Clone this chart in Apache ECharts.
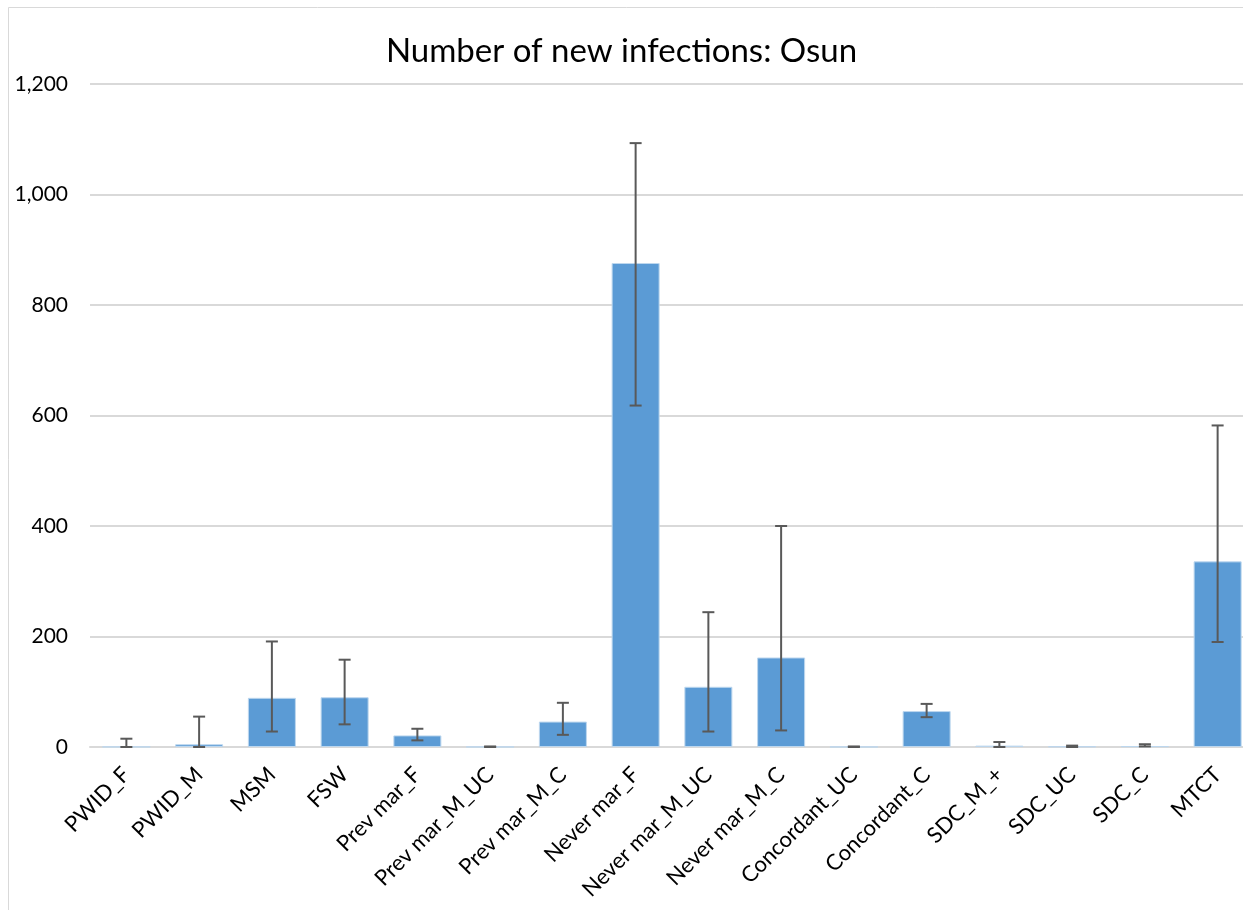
<!DOCTYPE html>
<html>
<head>
<meta charset="utf-8">
<script src="https://cdn.jsdelivr.net/npm/echarts@6/dist/echarts.min.js"></script>
<style>
  html, body { margin: 0; padding: 0; background: #fff; }
  #chart { width: 1243px; height: 910px; }
</style>
</head>
<body>
<div id="chart"></div>
<script>
const categories = [
  'PWID_F', 'PWID_M', 'MSM', 'FSW', 'Prev mar_F', 'Prev mar_M_UC', 'Prev mar_M_C',
  'Never mar_F', 'Never mar_M_UC', 'Never mar_M_C', 'Concordant_UC', 'Concordant_C',
  'SDC_M_+', 'SDC_UC', 'SDC_C', 'MTCT'
]
const infections = [0.5, 5, 89, 90, 21, 0.3, 46, 876, 109, 162, 0.3, 65, 2.5, 1, 1.5, 336]
const errLow = [0, 0, 28, 41, 12, 0, 22, 618, 28, 30, 0, 54, 0, 0, 1, 190]
const errHigh = [15, 55, 191, 158, 33, 1, 80, 1093, 244, 400, 1, 78, 9, 2.5, 5, 582]
const yTicks = [0, 200, 400, 600, 800, 1000, 1200]

const fontFamily = 'Lato, "Open Sans", sans-serif'
const chart = echarts.init(document.getElementById('chart'))

const errorData = categories.map((c, i) => [i, errLow[i], errHigh[i]])

// error bar: vertical stem with caps at both ends
function renderError(params, api) {
  const x = api.value(0)
  const lo = api.coord([x, api.value(1)])
  const hi = api.coord([x, api.value(2)])
  const cap = 6
  const style = { stroke: '#595959', lineWidth: 2, fill: null }
  return {
    type: 'group',
    children: [
      { type: 'line', shape: { x1: lo[0], y1: lo[1], x2: hi[0], y2: hi[1] }, style },
      { type: 'line', shape: { x1: hi[0] - cap, y1: hi[1], x2: hi[0] + cap, y2: hi[1] }, style },
      { type: 'line', shape: { x1: lo[0] - cap, y1: lo[1], x2: lo[0] + cap, y2: lo[1] }, style }
    ]
  }
}

const option = {
  animation: false,
  backgroundColor: '#fff',
  title: {
    text: 'Number of new infections: Osun',
    left: 'center',
    top: 30,
    textStyle: { fontFamily, fontSize: 33, fontWeight: 'normal', color: '#000' }
  },
  graphic: [{
    type: 'rect',
    shape: { x: 8.5, y: 7.5, width: 1400, height: 1000 },
    style: { fill: null, stroke: '#d9d9d9', lineWidth: 1 },
    z: -1
  }],
  grid: { left: 90, top: 84, width: 1164, height: 663, outerBoundsMode: 'none' },
  xAxis: {
    type: 'category',
    data: categories,
    axisLine: { lineStyle: { color: '#d9d9d9', width: 2 } },
    axisTick: { show: false },
    axisLabel: {
      rotate: 45,
      interval: 0,
      margin: 24,
      fontFamily,
      fontSize: 22,
      color: '#000'
    }
  },
  yAxis: {
    type: 'value',
    min: yTicks[0],
    max: yTicks[yTicks.length - 1],
    interval: 200,
    axisLine: { show: false },
    axisTick: { show: false },
    splitLine: { lineStyle: { color: '#d9d9d9', width: 2 } },
    axisLabel: {
      margin: 22,
      fontFamily,
      fontSize: 21,
      color: '#000',
      formatter: v => v.toLocaleString('en-US')
    }
  },
  series: [
    {
      type: 'bar',
      data: infections,
      barWidth: 48,
      itemStyle: { color: '#5b9bd5', borderColor: '#bdd7ee', borderWidth: 1 }
    },
    {
      type: 'custom',
      renderItem: renderError,
      data: errorData,
      encode: { x: 0, y: [1, 2] },
      z: 10
    }
  ]
}
chart.setOption(option)
</script>
</body>
</html>
